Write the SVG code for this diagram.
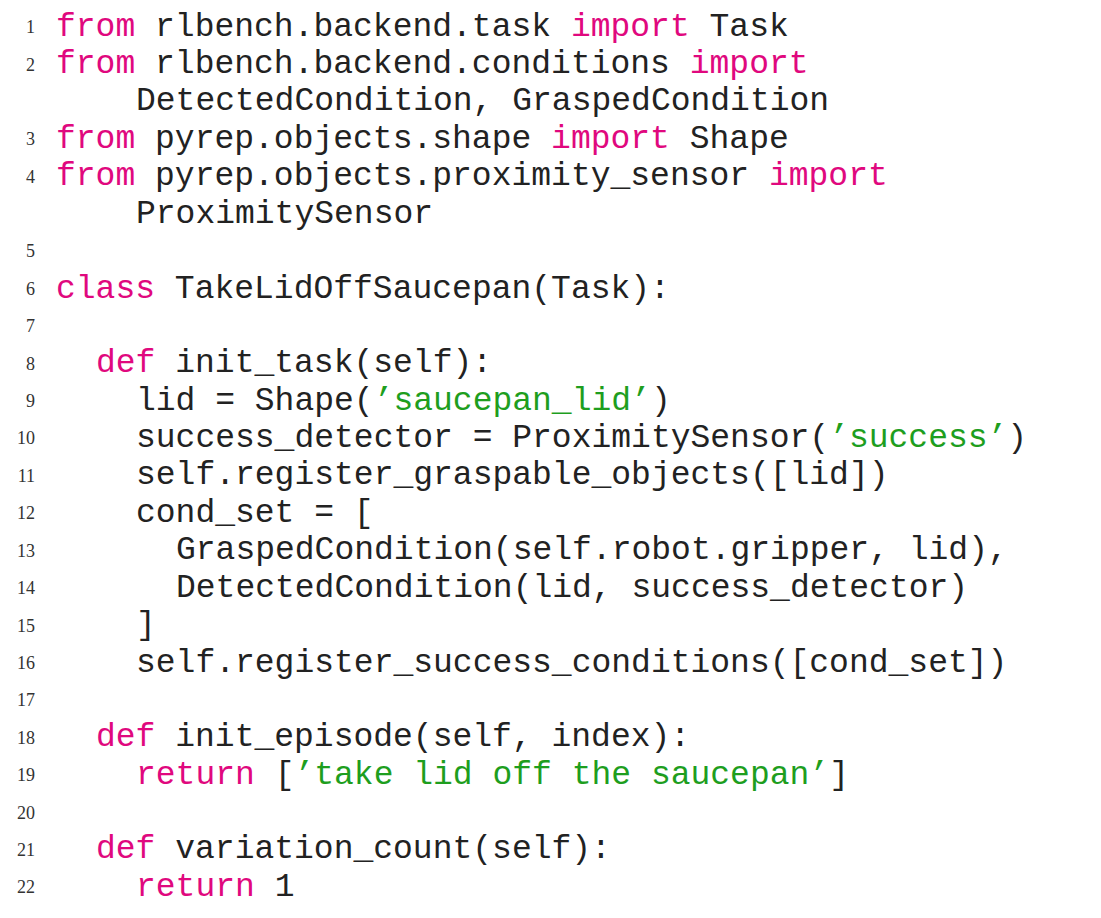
<svg xmlns="http://www.w3.org/2000/svg" width="1101" height="918" viewBox="0 0 1101 918">
<style>
.c{font-family:"Liberation Mono","DejaVu Sans Mono",monospace;font-size:33px;fill:#222;white-space:pre}
.n{font-family:"Liberation Serif",serif;font-size:18px;fill:#333;text-anchor:end}
.k{fill:#e0087e}
.s{fill:#1e9e1e}
</style>
<rect width="1101" height="918" fill="#fff"/>
<g id="numbers">
<text class="n" x="35" y="33">1</text>
<text class="n" x="35" y="71">2</text>
<text class="n" x="35" y="145">3</text>
<text class="n" x="35" y="183">4</text>
<text class="n" x="35" y="257">5</text>
<text class="n" x="35" y="295">6</text>
<text class="n" x="35" y="332">7</text>
<text class="n" x="35" y="370">8</text>
<text class="n" x="35" y="407">9</text>
<text class="n" x="35" y="444">10</text>
<text class="n" x="35" y="482">11</text>
<text class="n" x="35" y="519">12</text>
<text class="n" x="35" y="557">13</text>
<text class="n" x="35" y="594">14</text>
<text class="n" x="35" y="632">15</text>
<text class="n" x="35" y="669">16</text>
<text class="n" x="35" y="706">17</text>
<text class="n" x="35" y="744">18</text>
<text class="n" x="35" y="781">19</text>
<text class="n" x="35" y="819">20</text>
<text class="n" x="35" y="856">21</text>
<text class="n" x="35" y="893">22</text>
</g>
<g id="code" xml:space="preserve">
<text class="c" x="56" y="36"><tspan class="k">from</tspan> rlbench.backend.task <tspan class="k">import</tspan> Task</text>
<text class="c" x="56" y="73"><tspan class="k">from</tspan> rlbench.backend.conditions <tspan class="k">import</tspan></text>
<text class="c" x="136" y="110">DetectedCondition, GraspedCondition</text>
<text class="c" x="56" y="148"><tspan class="k">from</tspan> pyrep.objects.shape <tspan class="k">import</tspan> Shape</text>
<text class="c" x="56" y="185"><tspan class="k">from</tspan> pyrep.objects.proximity_sensor <tspan class="k">import</tspan></text>
<text class="c" x="136" y="223">ProximitySensor</text>
<text class="c" x="56" y="298"><tspan class="k">class</tspan> TakeLidOffSaucepan(Task):</text>
<text class="c" x="96" y="372"><tspan class="k">def</tspan> init_task(self):</text>
<text class="c" x="136" y="410">lid = Shape(<tspan class="s">’saucepan_lid’</tspan>)</text>
<text class="c" x="136" y="447">success_detector = ProximitySensor(<tspan class="s">’success’</tspan>)</text>
<text class="c" x="136" y="484">self.register_graspable_objects([lid])</text>
<text class="c" x="136" y="522">cond_set = [</text>
<text class="c" x="176" y="559">GraspedCondition(self.robot.gripper, lid),</text>
<text class="c" x="176" y="597">DetectedCondition(lid, success_detector)</text>
<text class="c" x="136" y="634">]</text>
<text class="c" x="136" y="672">self.register_success_conditions([cond_set])</text>
<text class="c" x="96" y="746"><tspan class="k">def</tspan> init_episode(self, index):</text>
<text class="c" x="136" y="784"><tspan class="k">return</tspan> [<tspan class="s">’take lid off the saucepan’</tspan>]</text>
<text class="c" x="96" y="858"><tspan class="k">def</tspan> variation_count(self):</text>
<text class="c" x="136" y="896"><tspan class="k">return</tspan> 1</text>
</g>
</svg>
